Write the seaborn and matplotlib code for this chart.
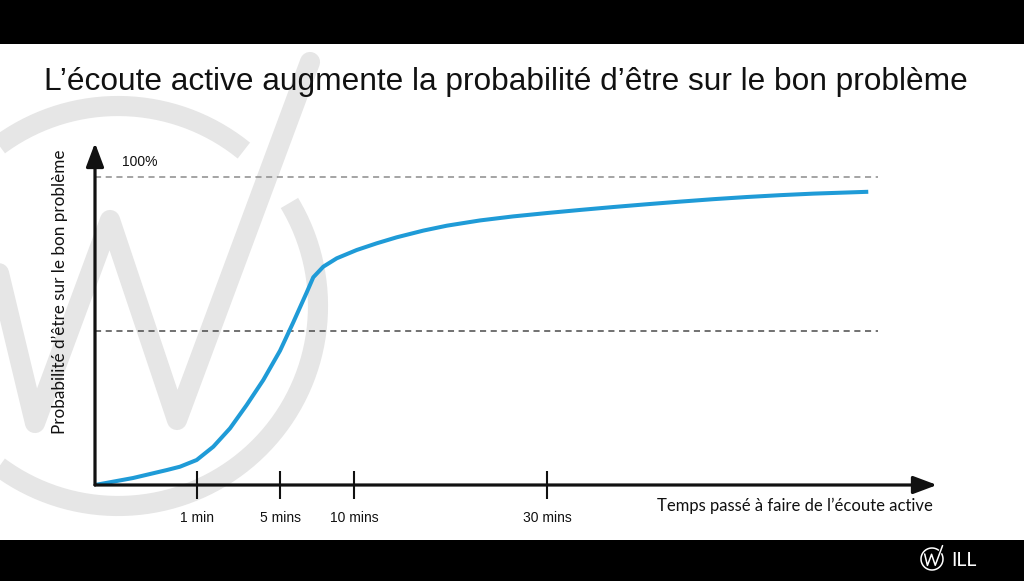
import numpy as np
import pandas as pd
import matplotlib
matplotlib.use("Agg")
import matplotlib.pyplot as plt
import seaborn as sns

# ---------------- data ----------------
# x: position along the (non-linear) time axis, in units where "1 min" = 1.0
curve_pos = [0.0, 0.373, 0.706, 0.833, 0.997, 1.160, 1.324, 1.487, 1.650, 1.814,
             1.944, 2.076, 2.140, 2.238, 2.370, 2.566, 2.762, 2.958, 3.219, 3.451,
             3.775, 4.098, 4.431, 4.755, 5.081, 5.409, 5.735, 6.062, 6.389, 6.716,
             7.042, 7.581]
curve_prob = [0.0, 2.27, 4.87, 5.94, 8.12, 12.44, 18.41, 25.97, 34.09, 43.60,
              52.82, 62.56, 67.44, 70.88, 73.60, 76.30, 78.47, 80.42, 82.60, 84.20,
              85.90, 87.20, 88.30, 89.30, 90.25, 91.15, 92.00, 92.80, 93.50, 94.10,
              94.60, 95.20]
tick_pos = [1.0, 1.814, 2.539, 4.431]
tick_labels = ["1 min", "5 mins", "10 mins", "30 mins"]
ref_levels = [100, 50]

title = "L\u2019écoute active augmente la probabilité d\u2019être sur le bon problème"
ylabel = "Probabilité d\u2019être sur le bon problème"
xlabel = "Temps passé à faire de l\u2019écoute active"

df = pd.DataFrame({"pos": curve_pos, "prob": curve_prob})

# ---------------- figure ----------------
sns.set_style("white")
plt.rcParams["font.family"] = ["Liberation Sans", "DejaVu Sans"]

W, H = 1024, 581
fig = plt.figure(figsize=(W / 100, H / 100), dpi=100)
fig.patch.set_facecolor("white")

# background / decoration axes in pixel coordinates
bg = fig.add_axes([0, 0, 1, 1], zorder=0)
bg.set_xlim(0, W)
bg.set_ylim(H, 0)
bg.axis("off")

# black bands
bg.fill_between([0, W], 0, 44, color="black", lw=0)
bg.fill_between([0, W], 540, H, color="black", lw=0)

def logo(cx, cy, r, color, lw, z):
    gap0, gap1 = np.deg2rad(51), np.deg2rad(31 + 360)
    t = np.linspace(gap0, gap1, 300)
    bg.plot(cx + r * np.cos(t), cy - r * np.sin(t), color=color, lw=lw,
            solid_capstyle="butt", zorder=z)
    wx = np.array([-0.665, -0.415, -0.04, 0.295, 0.96])
    wy = np.array([0.455, -0.585, 0.43, -0.57, 1.22])
    bg.plot(cx + r * wx, cy - r * wy, color=color, lw=lw,
            solid_capstyle="round", solid_joinstyle="round", zorder=z)

logo(118, 306, 200, "#e6e6e6", 14.5, 1)
logo(932, 559, 11, "white", 1.1, 3)
bg.text(951, 560, "ILL", color="white", fontsize=14, family=["Lato", "DejaVu Sans"],
        ha="left", va="center", zorder=3)

# title
bg.text(506, 82, title, fontsize=22.8, ha="center", va="center", color="#111111",
        zorder=3)

# ---------------- main chart ----------------
x0, x1, yb, yt = 95, 937, 485, 143
ax = fig.add_axes([x0 / W, (H - yb) / H, (x1 - x0) / W, (yb - yt) / H], zorder=2)
ax.patch.set_alpha(0)
ax.set_xlim(0, (x1 - x0) / 102)
ax.set_ylim(0, (yb - yt) / 3.08)
for s in ax.spines.values():
    s.set_visible(False)

xmax_frac = (878 - x0) / (x1 - x0)
ax.axhline(ref_levels[0], xmin=0, xmax=xmax_frac, color="#8c8c8c", lw=1.1,
           dashes=(4, 3))
ax.axhline(ref_levels[1], xmin=0, xmax=xmax_frac, color="#4a4a4a", lw=1.1,
           dashes=(4, 3))

sns.lineplot(data=df, x="pos", y="prob", ax=ax, color="#1f9bd7", lw=2.9,
             solid_capstyle="butt", solid_joinstyle="round", zorder=3)

# axes arrows
arrow = dict(arrowstyle="-|>,head_length=0.72,head_width=0.27", lw=2.3,
             color="#111111", shrinkA=0, shrinkB=0, mutation_scale=20)
ax.annotate("", xy=(1, 0), xytext=(0, 0), xycoords="axes fraction",
            textcoords="axes fraction", arrowprops=arrow, zorder=4)
ax.annotate("", xy=(0, 1), xytext=(0, 0), xycoords="axes fraction",
            textcoords="axes fraction", arrowprops=arrow, zorder=4)

ax.set_xticks(tick_pos)
ax.set_xticklabels(tick_labels, fontsize=10, color="#111111")
ax.tick_params(axis="x", direction="inout", length=20, width=1.5, pad=8.5,
               color="#111111", bottom=True)
ax.set_yticks([])
ax.set_xlabel("")
ax.set_ylabel("")

ax.text(0.265, 105.0, "100%", fontsize=10, ha="left", va="center", color="#111111")

bg.text(60, 292, ylabel, rotation=90, ha="center", va="center", fontsize=12.3,
        family=["Lato", "DejaVu Sans"], color="#111111", zorder=3)
bg.text(933, 506, xlabel, ha="right", va="center", fontsize=12,
        family=["Lato", "DejaVu Sans"], color="#111111", zorder=3)

fig.savefig("out.png", dpi=100, facecolor="white")
